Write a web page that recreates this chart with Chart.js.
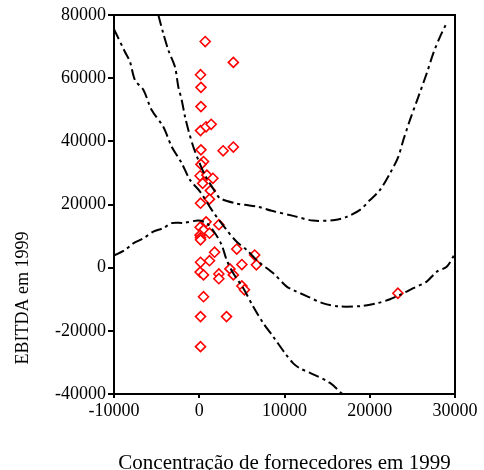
<!DOCTYPE html>
<html>
<head>
<meta charset="utf-8">
<script src="https://cdn.jsdelivr.net/npm/chart.js@4.4.1/dist/chart.umd.min.js"></script>
<style>
  html, body { margin: 0; padding: 0; background: #ffffff; }
  #wrap { position: relative; width: 484px; height: 470px; }
</style>
</head>
<body>
<div id="wrap"><canvas id="c" width="484" height="470"></canvas></div>
<script>
// ---- Data ----
const xTickValues = [-10000, 0, 10000, 20000, 30000];
const yTickValues = [-40000, -20000, 0, 20000, 40000, 60000, 80000];

// Scatter points: Concentração de fornecedores (x) vs EBITDA (y)
const pointX = [700, 4000, 150, 200, 200, 150, 800, 1400, 200, 2800, 4000, 500, 200, 100, 900, 1600, 400, 1300, 1200, 150,
                800, 2300, 100, 500, 1200, 100, 150, 150, 1800, 4400, 6500, 1200, 150, 5000, 6700, 3600, 2300, 2300, 100, 500,
                4000, 5000, 5300, 500, 150, 3200, 150, 23300];
const pointY = [71600, 65000, 61100, 57100, 51000, 43400, 44600, 45400, 37300, 37000, 38200, 33600, 32700, 29100, 29300, 28300, 26700, 24400, 21700, 20400,
                14500, 13600, 12800, 11900, 10900, 10300, 9500, 8800, 4900, 5900, 4000, 2200, 1700, 1000, 900, -400, -2000, -3500, -1400, -2300,
                -2300, -5800, -7000, -9200, -15500, -15500, -25000, -8100];

// Fitted curve
const fitX = [-10000, -8710, -8120, -7540, -6560, -5580, -4220, -3230, -2060, -1090, 90, 1460, 3220, 4390, 5570, 6930, 8690, 10260, 11030, 12600, 14550, 16510, 19240, 20810, 22380, 23550, 25110, 26680, 27850, 29030, 30000];
const fitY = [75500, 68300, 65100, 59400, 56300, 49900, 44600, 38300, 33100, 27800, 24100, 18300, 11900, 8200, 5600, 1900, -1800, -6000, -7100, -9000, -11300, -12300, -12100, -11300, -10000, -8600, -6500, -4400, -1300, 300, 4500];

// Upper band
const upperX = [-4800, -4220, -3630, -2850, -2460, -2060, -1670, -1280, -700, -110, 670, 1850, 2430, 4190, 5370, 6890, 8500, 11030, 13340, 15920, 17300, 18860, 20030, 21200, 22380, 23350, 23940, 24720, 25700, 26680, 27460, 28240, 28900];
const upperY = [80000, 74200, 68900, 63600, 57300, 53100, 47800, 43600, 38300, 34100, 29300, 24100, 22000, 20400, 19900, 19300, 18000, 16400, 14900, 15100, 16100, 18300, 21400, 24600, 29900, 35100, 40400, 46800, 54100, 61500, 67900, 73100, 76800];

// Lower band
const lowerX = [-10000, -8710, -7740, -6560, -5390, -4220, -3230, -1870, -110, 870, 1850, 2630, 3220, 3990, 5170, 6340, 7510, 8690, 10060, 11030, 11820, 13000, 15340, 16780];
const lowerY = [3800, 5600, 7700, 9300, 11400, 12500, 14100, 14200, 14900, 14100, 10900, 7200, 2400, -1800, -6500, -12400, -17600, -21900, -27100, -30300, -31900, -33300, -36500, -40000];

const toXY = (xs, ys) => xs.map((x, i) => ({ x: x, y: ys[i] }));

const FONT = "'Liberation Serif', 'Times New Roman', serif";

const framePlugin = {
  id: 'frame',
  afterDatasetsDraw(chart) {
    const { ctx, chartArea: a } = chart;
    ctx.save();
    ctx.strokeStyle = '#000';
    ctx.lineWidth = 2;
    ctx.strokeRect(a.left, a.top, a.right - a.left, a.bottom - a.top);
    ctx.restore();
  }
};

const yTitlePlugin = {
  id: 'ytitle',
  afterDraw(chart) {
    const { ctx } = chart;
    ctx.save();
    ctx.translate(23, 298);
    ctx.rotate(-Math.PI / 2);
    ctx.font = "18px " + FONT;
    ctx.fillStyle = '#000';
    ctx.textAlign = 'center';
    ctx.textBaseline = 'middle';
    ctx.fillText('EBITDA em 1999', 0, 0);
    ctx.restore();
  }
};

const lineStyle = {
  type: 'scatter',
  showLine: true,
  pointRadius: 0,
  borderColor: '#000',
  borderWidth: 2,
  borderDash: [11, 4, 3, 4],
  fill: false,
  tension: 0.3
};

new Chart(document.getElementById('c'), {
  type: 'scatter',
  data: {
    datasets: [
      Object.assign({ label: 'fit', data: toXY(fitX, fitY) }, lineStyle),
      Object.assign({ label: 'upper', data: toXY(upperX, upperY) }, lineStyle),
      Object.assign({ label: 'lower', data: toXY(lowerX, lowerY) }, lineStyle),
      {
        label: 'EBITDA',
        data: toXY(pointX, pointY),
        pointStyle: 'rectRot',
        pointRadius: 5,
        pointBorderWidth: 1.6,
        pointBorderColor: '#ff0000',
        pointBackgroundColor: '#ffffff',
        showLine: false
      }
    ]
  },
  options: {
    responsive: false,
    animation: false,
    devicePixelRatio: 1,
    layout: { padding: { top: 15, right: 29, left: 0, bottom: 0 } },
    plugins: { legend: { display: false }, tooltip: { enabled: false } },
    scales: {
      x: {
        type: 'linear',
        min: -10000, max: 30000,
        afterBuildTicks: (s) => { s.ticks = xTickValues.map(v => ({ value: v })); },
        afterFit: (s) => { s.height = 76; },
        grid: { display: true, drawOnChartArea: false, drawTicks: true, tickLength: 4, color: '#000', lineWidth: 2 },
        border: { display: true, color: '#000', width: 2 },
        ticks: { color: '#000', font: { family: FONT, size: 18 }, padding: 2, maxRotation: 0, callback: (v) => String(v) },
        title: { display: true, text: 'Concentração de fornecedores em 1999', color: '#000', font: { family: FONT, size: 21 }, padding: { top: 0, bottom: -6 } }
      },
      y: {
        type: 'linear',
        min: -40000, max: 80000,
        afterBuildTicks: (s) => { s.ticks = yTickValues.map(v => ({ value: v })); },
        afterFit: (s) => { s.width = 114; },
        grid: { display: true, drawOnChartArea: false, drawTicks: true, tickLength: 6, color: '#000', lineWidth: 2 },
        border: { display: true, color: '#000', width: 2 },
        ticks: { color: '#000', font: { family: FONT, size: 18 }, padding: 2, callback: (v) => String(v) }
      }
    }
  },
  plugins: [framePlugin, yTitlePlugin]
});
</script>
</body>
</html>
